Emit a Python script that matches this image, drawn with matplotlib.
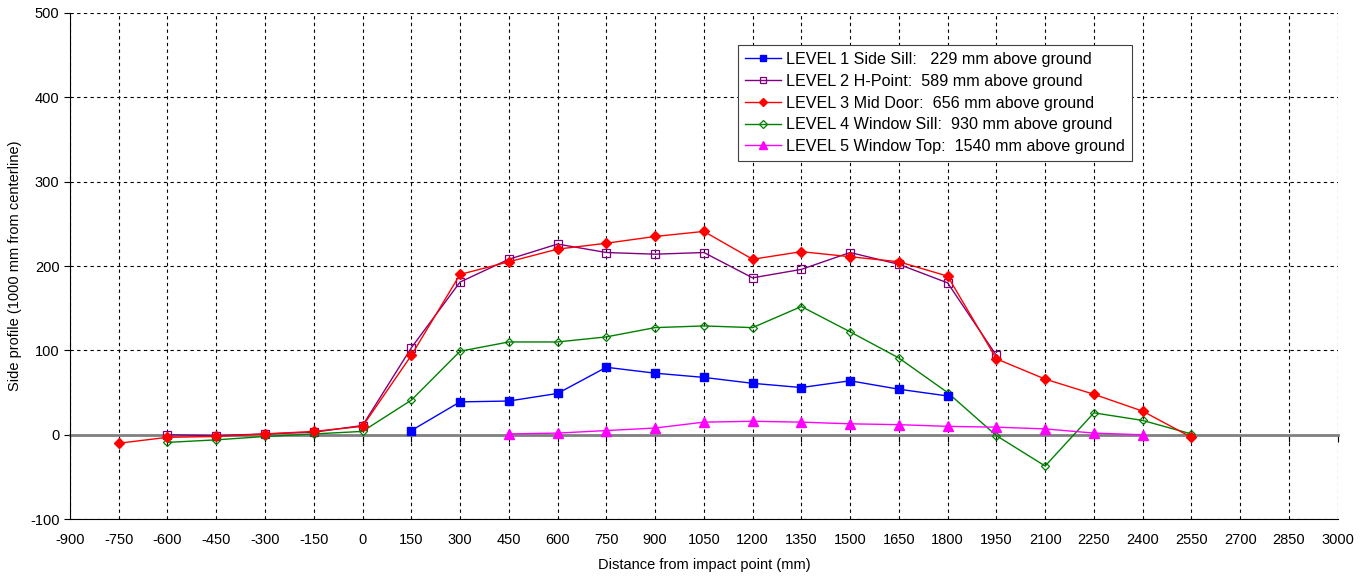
import matplotlib
matplotlib.use('Agg')
import matplotlib.pyplot as plt

plt.rcParams['font.family'] = ['Liberation Sans', 'DejaVu Sans']
plt.rcParams['font.size'] = 10.5
plt.rcParams['axes.unicode_minus'] = False

# Data (distance in mm, side profile value)
level1_x = [150, 300, 450, 600, 750, 900, 1050, 1200, 1350, 1500, 1650, 1800]
level1_y = [5, 39, 40, 49, 80, 73, 68, 61, 56, 64, 54, 46]

level2_x = [-600, -450, -300, -150, 0, 150, 300, 450, 600, 750, 900, 1050,
            1200, 1350, 1500, 1650, 1800, 1950]
level2_y = [0, -1, 1, 3, 11, 103, 181, 208, 226, 216, 214, 216,
            186, 196, 216, 202, 180, 94]

level3_x = [-750, -600, -450, -300, -150, 0, 150, 300, 450, 600, 750, 900,
            1050, 1200, 1350, 1500, 1650, 1800, 1950, 2100, 2250, 2400, 2550]
level3_y = [-10, -3, -2, 1, 4, 10, 94, 190, 205, 220, 227, 235,
            241, 208, 217, 211, 205, 188, 90, 66, 48, 28, -3]

level4_x = [-600, -450, -300, -150, 0, 150, 300, 450, 600, 750, 900, 1050,
            1200, 1350, 1500, 1650, 1800, 1950, 2100, 2250, 2400, 2550]
level4_y = [-9, -6, -2, 1, 4, 41, 99, 110, 110, 116, 127, 129,
            127, 152, 122, 91, 50, -1, -37, 26, 17, 1]

level5_x = [450, 600, 750, 900, 1050, 1200, 1350, 1500, 1650, 1800, 1950,
            2100, 2250, 2400]
level5_y = [1, 2, 5, 8, 15, 16, 15, 13, 12, 10, 9, 7, 2, 0]

labels = [
    'LEVEL 1 Side Sill:   229 mm above ground',
    'LEVEL 2 H-Point:  589 mm above ground',
    'LEVEL 3 Mid Door:  656 mm above ground',
    'LEVEL 4 Window Sill:  930 mm above ground',
    'LEVEL 5 Window Top:  1540 mm above ground',
]

x_ticks = list(range(-900, 3001, 150))
y_ticks = list(range(-100, 501, 100))

fig = plt.figure(figsize=(13.72, 5.84), dpi=100)
ax = fig.add_axes([0.051, 0.111, 0.924, 0.867])

ax.plot(level1_x, level1_y, color='#0000FF', lw=1, marker='s', ms=5.5,
        mfc='#0000FF', mec='#0000FF', label=labels[0], zorder=4)
ax.plot(level2_x, level2_y, color='#800080', lw=1, marker='s', ms=6,
        mfc='none', mec='#800080', mew=0.9, label=labels[1], zorder=3)
ax.plot(level3_x, level3_y, color='#FF0000', lw=1, marker='D', ms=5,
        mfc='#FF0000', mec='#FF0000', label=labels[2], zorder=3.5)
ax.plot(level4_x, level4_y, color='#008000', lw=1, marker='D', ms=4.5,
        mfc='none', mec='#008000', mew=0.9, label=labels[3], zorder=3)
ax.plot(level5_x, level5_y, color='#FF00FF', lw=1, marker='^', ms=6.5,
        mfc='#FF00FF', mec='#FF00FF', label=labels[4], zorder=3)

ax.set_xlim(-900, 3000)
ax.set_ylim(-100, 500)
ax.set_xticks(x_ticks)
ax.set_yticks(y_ticks)
ax.tick_params(axis='x', length=0, pad=10)
ax.tick_params(axis='y', length=4, direction='out')

ax.grid(True, color='black', linestyle=(0, (3, 3)), linewidth=0.8)
ax.spines['top'].set_visible(False)
ax.spines['right'].set_visible(False)

# zero axis line with tick marks, drawn above the grid
zero_ax = ax.secondary_xaxis(0, transform=ax.transData)
zero_ax.set_zorder(1.8)
zero_ax.set_xticks(x_ticks)
zero_ax.set_xticklabels([])
zero_ax.tick_params(length=5, direction='out', color='black')
zero_ax.spines['bottom'].set_color('#808080')
zero_ax.spines['bottom'].set_linewidth(2)

ax.set_xlabel('Distance from impact point (mm)', labelpad=8)
ax.set_ylabel('Side profile (1000 mm from centerline)', labelpad=6)

leg = ax.legend(loc='upper left', bbox_to_anchor=(0.527, 0.937),
                fancybox=False, edgecolor='#404040', framealpha=1,
                prop={'size': 11.6}, handlelength=2.2, markerscale=0.8,
                borderpad=0.45, labelspacing=0.42, handletextpad=0.3,
                borderaxespad=0)
leg.get_frame().set_linewidth(0.8)

fig.savefig('out.png', dpi=100)
